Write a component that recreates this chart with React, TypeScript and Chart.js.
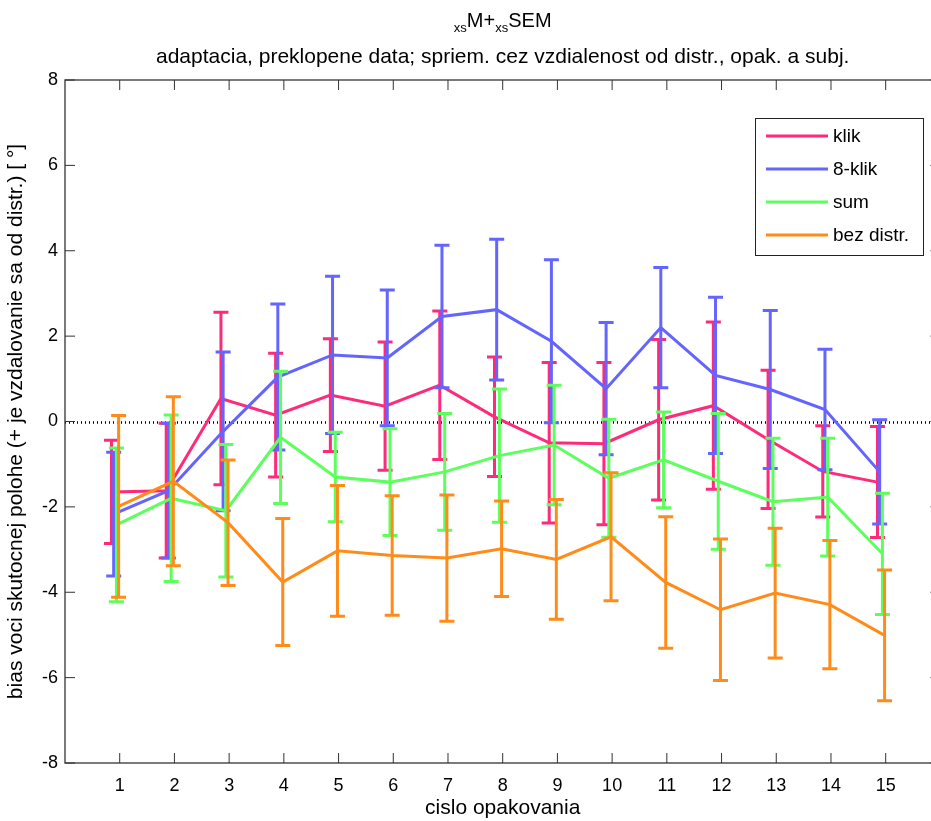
import React, { useEffect, useRef } from 'react';
import { Chart, registerables } from 'chart.js';

Chart.register(...registerables);

// ---- data ----
const repetitions = [1, 2, 3, 4, 5, 6, 7, 8, 9, 10, 11, 12, 13, 14, 15];
const yTickValues = [-8, -6, -4, -2, 0, 2, 4, 6, 8];
const seriesNames = ['klik', '8-klik', 'sum', 'bez distr.'];

const klikMean = [-1.65, -1.62, 0.54, 0.15, 0.62, 0.36, 0.85, 0.11, -0.5, -0.52, 0.04, 0.37, -0.42, -1.17, -1.42];
const klikSem = [1.21, 1.58, 2.02, 1.45, 1.32, 1.5, 1.74, 1.4, 1.88, 1.9, 1.88, 1.96, 1.62, 1.07, 1.3];

const osemKlikMean = [-2.17, -1.62, -0.23, 1.04, 1.56, 1.49, 2.46, 2.62, 1.88, 0.77, 2.2, 1.08, 0.75, 0.28, -1.18];
const osemKlikSem = [1.45, 1.58, 1.86, 1.71, 1.84, 1.59, 1.67, 1.65, 1.91, 1.55, 1.41, 1.83, 1.85, 1.41, 1.22];

const sumMean = [-2.42, -1.8, -2.09, -0.37, -1.3, -1.42, -1.18, -0.8, -0.55, -1.33, -0.9, -1.4, -1.88, -1.77, -3.1];
const sumSem = [1.8, 1.95, 1.55, 1.55, 1.05, 1.25, 1.37, 1.56, 1.4, 1.38, 1.12, 1.59, 1.49, 1.38, 1.42];

const bezDistrMean = [-1.99, -1.4, -2.37, -3.76, -3.03, -3.14, -3.2, -2.98, -3.23, -2.7, -3.77, -4.41, -4.02, -4.29, -5.01];
const bezDistrSem = [2.13, 1.98, 1.47, 1.49, 1.53, 1.4, 1.48, 1.12, 1.4, 1.5, 1.54, 1.66, 1.52, 1.5, 1.53];

const seriesMeans = [klikMean, osemKlikMean, sumMean, bezDistrMean];
const seriesSems = [klikSem, osemKlikSem, sumSem, bezDistrSem];
const seriesColors = ['#ff2a7a', '#6464ff', '#5cff5c', '#ff8c1a'];
const seriesOffsets = [-0.15, -0.11, -0.06, -0.02];

const titleParts = [
  { text: 'xs', sub: true },
  { text: 'M+', sub: false },
  { text: 'xs', sub: true },
  { text: 'SEM', sub: false },
];
const subtitleText = 'adaptacia, preklopene data; spriem. cez vzdialenost od distr., opak. a subj.';
const xTitle = 'cislo opakovania';
const yTitle = 'bias voci skutocnej polohe (+ je vzdalovanie sa od distr.) [ °]';

const FONT_FAMILY = "'Liberation Sans', Arial, Helvetica, sans-serif";
const CANVAS_W = 960;
const CANVAS_H = 821;

const errorBarPlugin = {
  id: 'errorBars',
  beforeDatasetDraw(chart: any, args: any) {
    const i = args.index;
    const ctx = chart.ctx;
    const xs = chart.scales.x;
    const ys = chart.scales.y;
    const means = seriesMeans[i];
    const sems = seriesSems[i];
    ctx.save();
    ctx.strokeStyle = seriesColors[i];
    ctx.lineWidth = 3;
    ctx.lineCap = 'butt';
    const capHalf = 7.5;
    repetitions.forEach((r, j) => {
      const x = xs.getPixelForValue(r + seriesOffsets[i]);
      const yt = ys.getPixelForValue(means[j] + sems[j]);
      const yb = ys.getPixelForValue(means[j] - sems[j]);
      ctx.beginPath();
      ctx.moveTo(x, yt);
      ctx.lineTo(x, yb);
      ctx.moveTo(x - capHalf, yt);
      ctx.lineTo(x + capHalf, yt);
      ctx.moveTo(x - capHalf, yb);
      ctx.lineTo(x + capHalf, yb);
      ctx.stroke();
    });
    ctx.restore();
  },
};

const framePlugin = {
  id: 'frame',
  beforeDatasetsDraw(chart: any) {
    const ctx = chart.ctx;
    const { left, right, top, bottom } = chart.chartArea;
    const xs = chart.scales.x;
    const ys = chart.scales.y;
    ctx.save();
    // zero dotted line
    const y0 = Math.round(ys.getPixelForValue(0)) + 0.5;
    ctx.strokeStyle = '#000';
    ctx.lineWidth = 2.5;
    ctx.setLineDash([1, 3]);
    ctx.beginPath();
    ctx.moveTo(left, y0);
    ctx.lineTo(right, y0);
    ctx.stroke();
    ctx.setLineDash([]);
    // frame
    ctx.strokeStyle = '#333';
    ctx.lineWidth = 1.3;
    ctx.strokeRect(left, top, right - left, bottom - top);
    // inward ticks
    const tl = 10;
    ctx.beginPath();
    repetitions.forEach((r) => {
      const x = xs.getPixelForValue(r);
      ctx.moveTo(x, bottom);
      ctx.lineTo(x, bottom - tl);
      ctx.moveTo(x, top);
      ctx.lineTo(x, top + tl);
    });
    yTickValues.forEach((v) => {
      const y = ys.getPixelForValue(v);
      ctx.moveTo(left, y);
      ctx.lineTo(left + tl, y);
      ctx.moveTo(right, y);
      ctx.lineTo(right - tl, y);
    });
    ctx.lineWidth = 1;
    ctx.stroke();
    ctx.restore();
  },
};

const titleLegendPlugin = {
  id: 'titleLegend',
  afterDraw(chart: any) {
    const ctx = chart.ctx;
    const { left, right } = chart.chartArea;
    const cx = (left + right) / 2;
    ctx.save();
    ctx.fillStyle = '#000';
    ctx.textBaseline = 'alphabetic';
    // title with subscripts
    const mainFont = `20px ${FONT_FAMILY}`;
    const subFont = `13px ${FONT_FAMILY}`;
    let total = 0;
    titleParts.forEach((p) => {
      ctx.font = p.sub ? subFont : mainFont;
      total += ctx.measureText(p.text).width;
    });
    let x = cx - total / 2;
    const base = 27;
    titleParts.forEach((p) => {
      ctx.font = p.sub ? subFont : mainFont;
      ctx.textAlign = 'left';
      ctx.fillText(p.text, x, p.sub ? base + 5 : base);
      x += ctx.measureText(p.text).width;
    });
    // subtitle
    ctx.font = `21px ${FONT_FAMILY}`;
    ctx.textAlign = 'center';
    ctx.fillText(subtitleText, cx, 63);

    // legend
    const bx = 755.5, by = 118.5, bw = 168, bh = 137;
    ctx.fillStyle = '#fff';
    ctx.fillRect(bx, by, bw, bh);
    ctx.strokeStyle = '#222';
    ctx.lineWidth = 1;
    ctx.strokeRect(bx, by, bw, bh);
    const rowY = [136, 169, 202, 235];
    seriesNames.forEach((name, i) => {
      ctx.strokeStyle = seriesColors[i];
      ctx.lineWidth = 3;
      ctx.beginPath();
      ctx.moveTo(766, rowY[i]);
      ctx.lineTo(828, rowY[i]);
      ctx.stroke();
      ctx.fillStyle = '#000';
      ctx.font = `19px ${FONT_FAMILY}`;
      ctx.textAlign = 'left';
      ctx.textBaseline = 'middle';
      ctx.fillText(name, 833, rowY[i] + 1);
    });
    ctx.restore();
  },
};

export default function App() {
  const canvasRef = useRef<HTMLCanvasElement | null>(null);

  useEffect(() => {
    const canvas = canvasRef.current;
    if (!canvas) return;
    const tickFont = { family: FONT_FAMILY, size: 18 };
    const titleFont = { family: FONT_FAMILY, size: 21 };
    const datasets = seriesNames.map((name, i) => ({
      label: name,
      data: repetitions.map((r, j) => ({ x: r + seriesOffsets[i], y: seriesMeans[i][j] })),
      borderColor: seriesColors[i],
      backgroundColor: seriesColors[i],
      borderWidth: 3,
      pointRadius: 0,
      tension: 0,
      fill: false,
      order: seriesNames.length - i,
    }));
    const chart = new Chart(canvas, {
      type: 'line',
      data: { datasets },
      options: {
        animation: false,
        responsive: false,
        devicePixelRatio: 1,
        events: [],
        layout: { padding: { top: 80, left: 0, right: CANVAS_W - 940.4, bottom: 0 } },
        plugins: {
          legend: { display: false },
          tooltip: { enabled: false },
          title: { display: false },
        },
        scales: {
          x: {
            type: 'linear',
            min: 0,
            max: 16,
            afterFit: (s: any) => { s.height = 58; },
            afterBuildTicks: (s: any) => { s.ticks = repetitions.map((v) => ({ value: v })); },
            grid: { display: false, drawTicks: false },
            border: { display: false },
            ticks: { font: tickFont, color: '#000', padding: 12, maxRotation: 0, autoSkip: false },
            title: { display: true, text: xTitle, font: titleFont, color: '#000', padding: 0 },
          },
          y: {
            type: 'linear',
            min: -8,
            max: 8,
            afterFit: (s: any) => { s.width = 65; },
            afterBuildTicks: (s: any) => { s.ticks = yTickValues.map((v) => ({ value: v })); },
            grid: { display: false, drawTicks: false },
            border: { display: false },
            ticks: { font: tickFont, color: '#000', padding: 7 },
            title: { display: true, text: yTitle, font: titleFont, color: '#000', padding: { top: 4, bottom: 0 } },
          },
        },
      },
      plugins: [errorBarPlugin, framePlugin, titleLegendPlugin],
    } as any);
    return () => chart.destroy();
  }, []);

  return (
    <div style={{ position: 'fixed', left: 0, top: 0, width: 931, height: 821, overflow: 'hidden', background: '#fff' }}>
      <canvas ref={canvasRef} width={CANVAS_W} height={CANVAS_H} style={{ display: 'block', width: CANVAS_W, height: CANVAS_H }} />
    </div>
  );
}
